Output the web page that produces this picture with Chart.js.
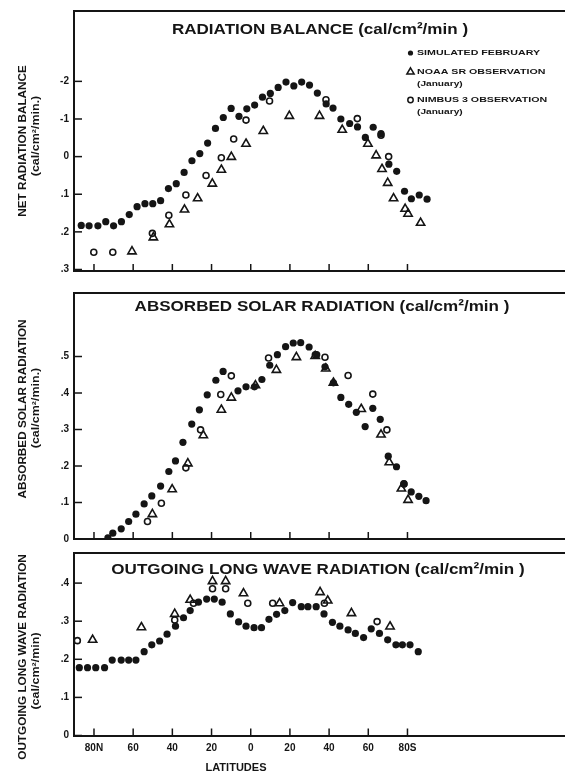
<!doctype html>
<html>
<head>
<meta charset="UTF-8">
<title>Radiation Balance</title>
<script src="https://cdn.jsdelivr.net/npm/chart.js"></script>
<style>
    body {
        margin: 0;
        background-color: #fff;
        width: 565px;
        height: 773px;
        overflow: hidden;
        position: relative;
    }

    canvas {
        position: absolute;
        left: 0;
    }
</style>
</head>
<body>

<canvas id="painel1" width="600" height="282" style="top:0px"></canvas>
<canvas id="painel2" width="600" height="268" style="top:282px"></canvas>
<canvas id="painel3" width="600" height="243" style="top:530px"></canvas>

<script>
    // latitude: negativo = norte, positivo = sul
    var latTicks = [-80, -60, -40, -20, 0, 20, 40, 60, 80];
    var latLabels = ['80N', '60', '40', '20', '0', '20', '40', '60', '80S'];

    // --- radiation balance ---
    var balTicks = [-0.2, -0.1, 0, 0.1, 0.2, 0.3];
    var balLabels = ['-2', '-1', '0', '.1', '.2', '.3'];

    var balSimLat = [-86.5, -82.5, -78, -74, -70, -66, -62, -58, -54, -50, -46, -42, -38, -34, -30, -26, -22, -18, -14, -10, -6, -2, 2, 6, 10, 14, 18, 22, 26, 30, 34, 38.5, 42, 46, 50.5, 54.5, 58.5, 62.5, 66.5, 70.5, 74.5, 78.5, 82, 86, 90];
    var balSimVal = [.183, .184, .184, .173, .184, .173, .154, .133, .125, .125, .117, .085, .072, .042, .011, -.008, -.036, -.075, -.104, -.128, -.107, -.127, -.137, -.158, -.168, -.184, -.198, -.188, -.198, -.19, -.169, -.140, -.129, -.10, -.088, -.079, -.051, -.078, -.061, .020, .039, .092, .112, .102, .113];

    var balNoaaLat = [-60.6, -49.7, -41.5, -33.8, -27.1, -19.6, -15, -9.9, -2.4, 6.4, 19.7, 35.1, 46.7, 59.8, 64, 67, 69.9, 72.9, 78.8, 80.3, 86.7];
    var balNoaaVal = [.252, .215, .180, .141, .111, .072, .035, .001, -.034, -.068, -.108, -.108, -.071, -.034, -.003, .033, .070, .111, .139, .152, .176];

    var balNimLat = [-80.1, -70.4, -50.2, -41.8, -33.1, -22.8, -15, -8.7, -2.4, 9.6, 38.4, 54.4, 66.5, 70.4];
    var balNimVal = [.254, .254, .204, .156, .102, .050, .003, -.047, -.097, -.148, -.151, -.101, -.057, .000];

    // --- absorbed solar radiation ---
    var solTicks = [0, 0.1, 0.2, 0.3, 0.4, 0.5];
    var solLabels = ['0', '.1', '.2', '.3', '.4', '.5'];

    var solSimLat = [-72.9, -70.4, -66.1, -62.3, -58.6, -54.4, -50.5, -46, -41.8, -38.4, -34.6, -30.1, -26.2, -22.2, -17.8, -14.1, -6.5, -2.4, 1.9, 5.7, 9.7, 13.6, 17.8, 21.7, 25.5, 29.8, 33.7, 37.9, 42.2, 46, 50, 53.9, 58.4, 62.3, 66.1, 70.2, 74.4, 78.2, 81.9, 85.8, 89.5];
    var solSimVal = [.003, .016, .028, .048, .068, .096, .118, .145, .185, .214, .265, .315, .354, .395, .435, .459, .406, .417, .417, .437, .476, .505, .527, .537, .538, .526, .505, .472, .428, .388, .369, .347, .308, .358, .328, .227, .198, .151, .129, .117, .105];

    var solNoaaLat = [-50.2, -40.1, -32.1, -24.2, -15, -9.9, 2.4, 13.1, 23.3, 32.9, 38.3, 42.2, 56.4, 66.5, 70.7, 76.9, 80.3];
    var solNoaaVal = [.068, .136, .207, .284, .354, .387, .421, .463, .498, .501, .467, .428, .356, .286, .210, .138, .107];

    var solNimLat = [-52.7, -45.6, -33.1, -25.6, -15.3, -9.9, 9.1, 33, 37.9, 49.7, 62.3, 69.5, 78.2];
    var solNimVal = [.048, .098, .195, .299, .396, .447, .496, .505, .498, .448, .397, .299, .151];

    // --- outgoing long wave radiation ---
    var olrTicks = [0, 0.1, 0.2, 0.3, 0.4];
    var olrLabels = ['0', '.1', '.2', '.3', '.4'];

    var olrSimLat = [-87.5, -83.3, -79.1, -74.6, -70.7, -66.1, -62.3, -58.6, -54.4, -50.5, -46.5, -42.7, -38.4, -34.3, -30.9, -26.7, -22.5, -18.6, -14.6, -10.4, -6.2, -2.4, 1.7, 5.5, 9.3, 13.2, 17.4, 21.4, 25.8, 29.2, 33.4, 37.4, 41.7, 45.5, 49.7, 53.4, 57.6, 61.5, 65.7, 69.9, 74.1, 77.4, 81.3, 85.5];
    var olrSimVal = [.178, .178, .178, .178, .198, .198, .198, .198, .220, .238, .248, .266, .287, .309, .328, .350, .358, .358, .350, .319, .298, .287, .283, .283, .305, .318, .328, .349, .338, .338, .338, .319, .297, .287, .277, .268, .257, .280, .268, .251, .238, .238, .238, .220];

    var olrNoaaLat = [-80.7, -55.8, -38.8, -30.9, -19.5, -12.8, -3.7, 14.7, 35.4, 39.3, 51.4, 71.1];
    var olrNoaaVal = [.251, .284, .319, .356, .405, .405, .373, .347, .376, .354, .321, .286];

    var olrNimLat = [-88.5, -38.8, -29.2, -19.5, -12.8, -1.5, 11.2, 37.6, 64.5];
    var olrNimVal = [.249, .303, .347, .385, .385, .347, .347, .347, .299];

    var FONTE = '"Liberation Sans", Arial, sans-serif';
    var PRETO = '#151515';

    function pontos(lats, vals) {
        return lats.map(function (la, i) { return { x: la, y: vals[i] }; });
    }

    function conjuntos(simLat, simVal, noaaLat, noaaVal, nimLat, nimVal) {
        return [
            {
                label: 'SIMULATED FEBRUARY', data: pontos(simLat, simVal),
                pointStyle: 'circle', pointRadius: 3.6, backgroundColor: PRETO, borderColor: PRETO, borderWidth: 0
            },
            {
                label: 'NOAA SR OBSERVATION', data: pontos(noaaLat, noaaVal),
                pointStyle: 'triangle', pointRadius: 4.8, backgroundColor: 'rgba(0,0,0,0)', borderColor: PRETO, borderWidth: 1.6
            },
            {
                label: 'NIMBUS 3 OBSERVATION', data: pontos(nimLat, nimVal),
                pointStyle: 'circle', pointRadius: 3, backgroundColor: 'rgba(0,0,0,0)', borderColor: PRETO, borderWidth: 1.6
            }
        ];
    }

    // texto esticado na horizontal (a fonte do original e mais larga)
    function textoLargo(ctx, txt, x, y, fator) {
        ctx.save();
        ctx.translate(x, y);
        ctx.scale(fator, 1);
        ctx.fillText(txt, 0, 0);
        ctx.restore();
    }

    function textoVertical(ctx, txt, x, y, fator) {
        ctx.save();
        ctx.translate(x, y);
        ctx.rotate(-Math.PI / 2);
        ctx.scale(fator, 1);
        ctx.fillText(txt, 0, 0);
        ctx.restore();
    }

    var moldura = {
        id: 'moldura',
        afterDraw: function (chart, args, o) {
            var ctx = chart.ctx, a = chart.chartArea;
            var xs = chart.scales.x, ys = chart.scales.y;
            ctx.save();
            ctx.strokeStyle = PRETO;
            ctx.lineWidth = 2;
            ctx.beginPath();
            ctx.moveTo(a.left - 1, a.top);
            ctx.lineTo(a.right, a.top);
            ctx.stroke();

            // ticks para dentro
            ctx.lineWidth = 1.5;
            xs.ticks.forEach(function (t) {
                var px = xs.getPixelForValue(t.value);
                ctx.beginPath(); ctx.moveTo(px, a.bottom); ctx.lineTo(px, a.bottom - 7); ctx.stroke();
            });
            ys.ticks.forEach(function (t) {
                var py = ys.getPixelForValue(t.value);
                ctx.beginPath(); ctx.moveTo(a.left, py); ctx.lineTo(a.left + 8, py); ctx.stroke();
            });

            ctx.fillStyle = PRETO;
            ctx.textAlign = 'center';
            ctx.textBaseline = 'middle';

            // titulo
            ctx.font = 'bold 15.5px ' + FONTE;
            textoLargo(ctx, o.titulo, o.tx, o.ty, 1.1);

            // titulo do eixo y
            ctx.font = 'bold 11.5px ' + FONTE;
            textoVertical(ctx, o.eixo, 22.5, o.yl, 1.02);
            ctx.font = 'bold 10px ' + FONTE;
            textoVertical(ctx, o.unidade, 36.5, o.ys, 1.25);

            if (o.latitudes) {
                ctx.font = 'bold 10.5px ' + FONTE;
                textoLargo(ctx, 'LATITUDES', 236, a.bottom + 32.5, 1.05);
            }

            if (o.legenda) {
                var ds = chart.data.datasets;
                // simbolos
                ctx.lineWidth = 1.5;
                ctx.fillStyle = PRETO;
                Chart.helpers.drawPoint(ctx, { pointStyle: 'circle', radius: 2.6, borderWidth: 0 }, 410.5, 53);
                ctx.fillStyle = '#fff';
                Chart.helpers.drawPoint(ctx, { pointStyle: 'triangle', radius: 4.2, borderWidth: 1.6 }, 410.5, 72);
                Chart.helpers.drawPoint(ctx, { pointStyle: 'circle', radius: 2.7, borderWidth: 1.6 }, 410.5, 100);

                ctx.fillStyle = PRETO;
                ctx.textAlign = 'left';
                ctx.font = 'bold 7.5px ' + FONTE;
                textoLargo(ctx, ds[0].label, 417, 53, 1.42);
                textoLargo(ctx, ds[1].label, 417, 72, 1.42);
                textoLargo(ctx, ds[2].label, 417, 100, 1.42);
                ctx.font = 'bold 7px ' + FONTE;
                textoLargo(ctx, '(January)', 417, 84, 1.45);
                textoLargo(ctx, '(January)', 417, 112, 1.45);
            }
            ctx.restore();
        }
    };

    function criarPainel(id, cfg) {
        return new Chart(document.getElementById(id).getContext('2d'), {
            type: 'scatter',
            data: { datasets: cfg.datasets },
            plugins: [moldura],
            options: {
                responsive: false,
                animation: false,
                devicePixelRatio: 1,
                layout: { padding: { top: cfg.topo, left: 0, right: 0, bottom: 0 } },
                plugins: {
                    legend: { display: false },
                    tooltip: { enabled: false },
                    moldura: cfg.extra
                },
                scales: {
                    x: {
                        type: 'linear',
                        min: -90.2,
                        max: 175,
                        afterBuildTicks: function (s) { s.ticks = latTicks.map(function (v) { return { value: v }; }); },
                        afterFit: function (s) { s.height = cfg.alturaX; },
                        grid: { drawOnChartArea: false, drawTicks: false },
                        border: { display: true, color: PRETO, width: 2 },
                        ticks: {
                            display: cfg.mostrarLat,
                            padding: 7,
                            color: PRETO,
                            font: { family: FONTE, size: 10, weight: 'bold' },
                            callback: function (v, i) { return latLabels[i]; }
                        }
                    },
                    y: {
                        type: 'linear',
                        min: cfg.min,
                        max: cfg.max,
                        reverse: cfg.inverter,
                        afterBuildTicks: function (s) { s.ticks = cfg.ticks.map(function (v) { return { value: v }; }); },
                        afterFit: function (s) { s.width = 74; },
                        grid: { drawOnChartArea: false, drawTicks: false },
                        border: { display: true, color: PRETO, width: 2 },
                        ticks: {
                            padding: 5,
                            color: PRETO,
                            font: { family: FONTE, size: 10, weight: 'bold' },
                            callback: function (v, i) { return cfg.rotulos[i]; }
                        }
                    }
                }
            }
        });
    }

    criarPainel('painel1', {
        datasets: conjuntos(balSimLat, balSimVal, balNoaaLat, balNoaaVal, balNimLat, balNimVal),
        topo: 10, alturaX: 6, mostrarLat: false,
        min: -0.387, max: 0.304, inverter: true,
        ticks: balTicks, rotulos: balLabels,
        extra: {
            titulo: 'RADIATION BALANCE (cal/cm\u00b2/min )', tx: 320, ty: 30,
            eixo: 'NET RADIATION BALANCE', yl: 141,
            unidade: '(cal/cm\u00b2/min.)', ys: 136,
            legenda: true
        }
    });

    criarPainel('painel2', {
        datasets: conjuntos(solSimLat, solSimVal, solNoaaLat, solNoaaVal, solNimLat, solNimVal),
        topo: 4, alturaX: 6.5, mostrarLat: false,
        min: 0, max: 0.674, inverter: false,
        ticks: solTicks, rotulos: solLabels,
        extra: {
            titulo: 'ABSORBED SOLAR RADIATION (cal/cm\u00b2/min )', tx: 322, ty: 25,
            eixo: 'ABSORBED SOLAR RADIATION', yl: 127,
            unidade: '(cal/cm\u00b2/min.)', ys: 126
        }
    });

    criarPainel('painel3', {
        datasets: conjuntos(olrSimLat, olrSimVal, olrNoaaLat, olrNoaaVal, olrNimLat, olrNimVal),
        topo: 23, alturaX: 37.5, mostrarLat: true,
        min: 0, max: 0.479, inverter: false,
        ticks: olrTicks, rotulos: olrLabels,
        extra: {
            titulo: 'OUTGOING LONG WAVE RADIATION (cal/cm\u00b2/min )', tx: 318, ty: 40,
            eixo: 'OUTGOING LONG WAVE RADIATION', yl: 127,
            unidade: '(cal/cm\u00b2/min)', ys: 141,
            latitudes: true
        }
    });
</script>
</body>
</html>
